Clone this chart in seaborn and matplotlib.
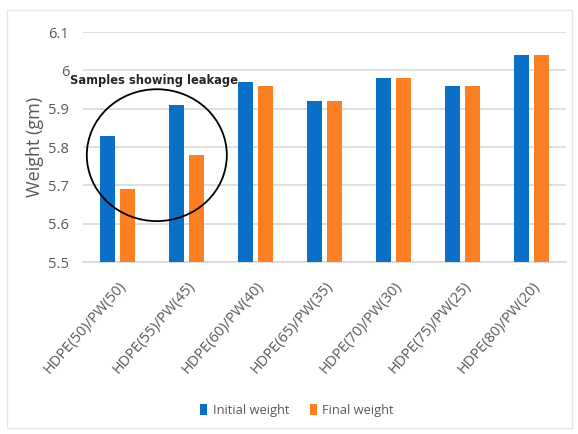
import numpy as np
import pandas as pd
import seaborn as sns
import matplotlib.pyplot as plt
from matplotlib.patches import Ellipse, Rectangle

# data
samples = ["HDPE(50)/PW(50)", "HDPE(55)/PW(45)", "HDPE(60)/PW(40)", "HDPE(65)/PW(35)",
           "HDPE(70)/PW(30)", "HDPE(75)/PW(25)", "HDPE(80)/PW(20)"]
initial_weight = [5.83, 5.91, 5.97, 5.92, 5.98, 5.96, 6.04]
final_weight = [5.69, 5.78, 5.96, 5.92, 5.98, 5.96, 6.04]
series = ["Initial weight", "Final weight"]

df = pd.DataFrame({
    "sample": samples * 2,
    "weight": initial_weight + final_weight,
    "series": [series[0]] * len(samples) + [series[1]] * len(samples),
})

sns.set_style("white")
plt.rcParams['font.family'] = ['Open Sans', 'DejaVu Sans']

grey = "#595959"
fig = plt.figure(figsize=(5.78, 4.34), dpi=100)
ax = fig.add_axes([0.1436, 0.396, 0.8354, 0.530])

sns.barplot(data=df, x="sample", y="weight", hue="series", ax=ax,
            palette=["#0a6fc6", "#fd7f23"], saturation=1, width=0.58, gap=0.25,
            edgecolor="none", zorder=3)

ax.set_ylim(5.5, 6.1)
ax.set_yticks([5.5, 5.6, 5.7, 5.8, 5.9, 6.0, 6.1])
ax.set_yticklabels(["5.5", "5.6", "5.7", "5.8", "5.9", "6", "6.1"])
ax.set_xlim(-0.5, len(samples) - 0.5)
ax.yaxis.grid(True, color="#d9d9d9", linewidth=1.2, zorder=0)
ax.set_axisbelow(True)
for s in ["top", "right", "left"]:
    ax.spines[s].set_visible(False)
ax.spines["bottom"].set_color("#d9d9d9")
ax.spines["bottom"].set_linewidth(1.2)

ax.tick_params(axis="y", length=0, labelsize=10.5, colors=grey, pad=10)
ax.tick_params(axis="x", length=0, labelsize=10.5, colors=grey, pad=12)
plt.setp(ax.get_xticklabels(), rotation=49, ha="right", rotation_mode="anchor")
ax.set_xlabel("")
ax.set_ylabel("Weight (gm)", fontsize=13, color=grey, labelpad=3)

ax.legend(loc="center", bbox_to_anchor=(0.443, -0.645), ncol=2, frameon=False,
          fontsize=9.3, labelcolor=grey, handlelength=0.55, handleheight=0.9,
          handletextpad=0.4, columnspacing=1.6)

# annotation circle around leaking samples
ax.add_patch(Ellipse((0.57, 5.779), 2.03, 0.344, fill=False, edgecolor="black",
                     linewidth=1.3, zorder=5, clip_on=False))
ax.text(0.53, 5.974, "Samples showing leakage", ha="center", va="center",
        fontsize=9.2, fontweight="bold", fontstretch="condensed",
        family=["DejaVu Sans"], zorder=6)

# light chart frame
fig.patches.append(Rectangle((0.012, 0.014), 0.978, 0.962, transform=fig.transFigure,
                             fill=False, edgecolor="#e6e6e6", linewidth=1.0))

fig.savefig("out.png", dpi=100)
